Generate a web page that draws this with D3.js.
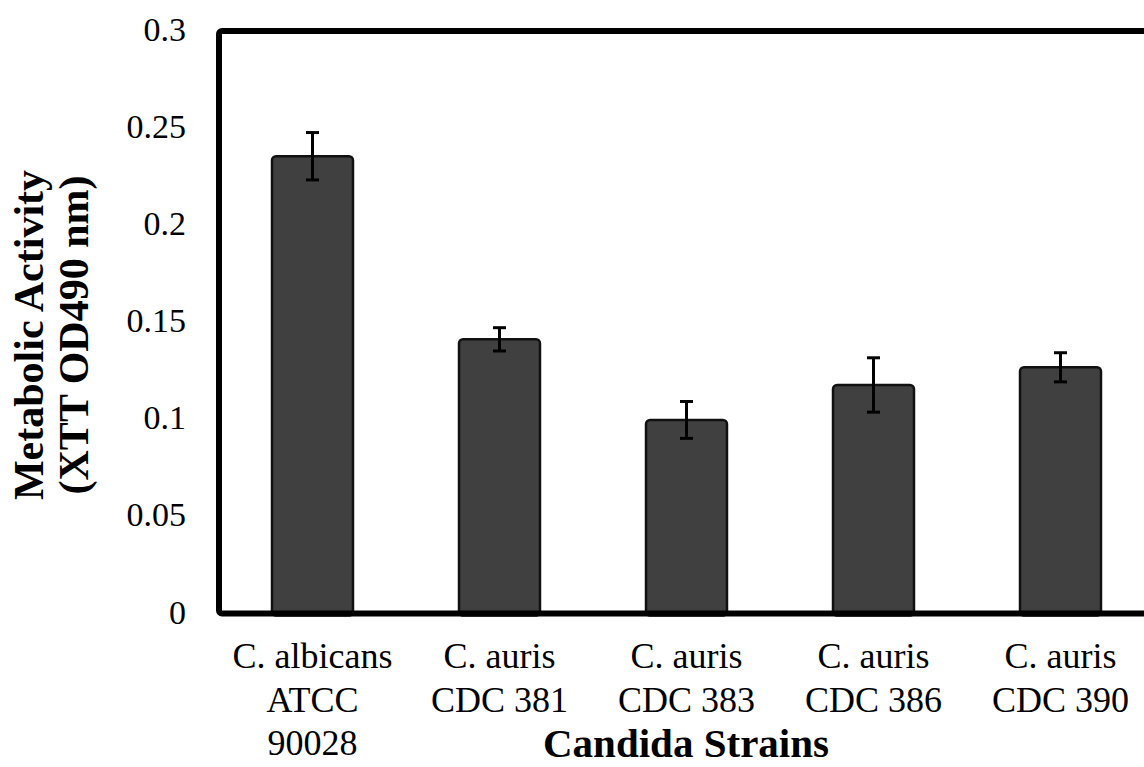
<!DOCTYPE html>
<html><head><meta charset="utf-8">
<script src="https://cdn.jsdelivr.net/npm/d3@7"></script>
<style>html,body{margin:0;padding:0;background:#fff;overflow:hidden}</style>
</head><body>
<svg id="chart" width="1144" height="767"></svg>
<script>
const categories = ["C. albicans|ATCC|90028", "C. auris|CDC 381", "C. auris|CDC 383", "C. auris|CDC 386", "C. auris|CDC 390"];
const values = [0.2355, 0.1412, 0.0997, 0.1177, 0.1268];
const errors = [0.0122, 0.0060, 0.0095, 0.0140, 0.0075];
const yTicks = [0, 0.05, 0.1, 0.15, 0.2, 0.25, 0.3];
const yTickLabels = ["0", "0.05", "0.1", "0.15", "0.2", "0.25", "0.3"];
const yTitle = ["Metabolic Activity", "(XTT OD490 nm)"];
const xTitle = "Candida Strains";

(function () {
const svg = d3.select("#chart");
const font = "Liberation Serif";
const pLeft = 219, pTop = 31, pBottom = 613.5, pRight = 1154;

const x = d3.scaleBand().domain(categories).range([pLeft, pRight]).paddingInner(0.567).paddingOuter(0.2835);
const y = d3.scaleLinear().domain([0, 0.3]).range([pBottom, pTop]);

// bars
svg.append("g").selectAll("rect").data(values).join("rect")
  .attr("x", (d, i) => x(categories[i]))
  .attr("y", d => y(d))
  .attr("width", x.bandwidth())
  .attr("height", d => pBottom - y(d) + 2)
  .attr("rx", 4)
  .attr("fill", "#404040")
  .attr("stroke", "#111")
  .attr("stroke-width", 2.5);

// error bars
const eg = svg.append("g").attr("stroke", "#000").attr("stroke-width", 3);
values.forEach((v, i) => {
  const cx = x(categories[i]) + x.bandwidth() / 2;
  eg.append("line").attr("x1", cx).attr("x2", cx).attr("y1", y(v + errors[i])).attr("y2", y(v - errors[i]));
  [v + errors[i], v - errors[i]].forEach(e => {
    eg.append("line").attr("x1", cx - 6.5).attr("x2", cx + 6.5).attr("y1", y(e)).attr("y2", y(e));
  });
});

// frame
svg.append("rect").attr("x", pLeft).attr("y", pTop).attr("width", 1200).attr("height", pBottom - pTop)
  .attr("fill", "none").attr("stroke", "#000").attr("stroke-width", 6).attr("rx", 3);

// y axis labels
const yAxis = d3.axisLeft(y).tickValues(yTicks).tickSize(0).tickPadding(0)
  .tickFormat((d, i) => yTickLabels[i]);
const ya = svg.append("g").attr("transform", "translate(186,0)").call(yAxis);
ya.select(".domain").remove();
ya.selectAll("text").attr("font-family", font).attr("font-size", 34).attr("fill", "#000").attr("dy", "0.28em");

// x labels
const xg = svg.append("g");
categories.forEach(c => {
  const cx = x(c) + x.bandwidth() / 2;
  const t = xg.append("text").attr("x", cx).attr("y", 668).attr("text-anchor", "middle")
    .attr("font-family", font).attr("font-size", 36).attr("fill", "#000");
  c.split("|").forEach((line, j) => {
    t.append("tspan").attr("x", cx).attr("y", 668 + j * 43.5).text(line);
  });
});

// axis titles
svg.append("text").attr("x", 686).attr("y", 757).attr("text-anchor", "middle")
  .attr("font-family", font).attr("font-weight", "bold").attr("font-size", 41).text(xTitle);

const yt = svg.append("text").attr("transform", "translate(0,335) rotate(-90)")
  .attr("text-anchor", "middle").attr("font-family", font).attr("font-weight", "bold").attr("font-size", 42);
yTitle.forEach((line, j) => {
  yt.append("tspan").attr("x", 0).attr("y", 43 + j * 45).text(line);
});
})();
</script>
</body></html>
